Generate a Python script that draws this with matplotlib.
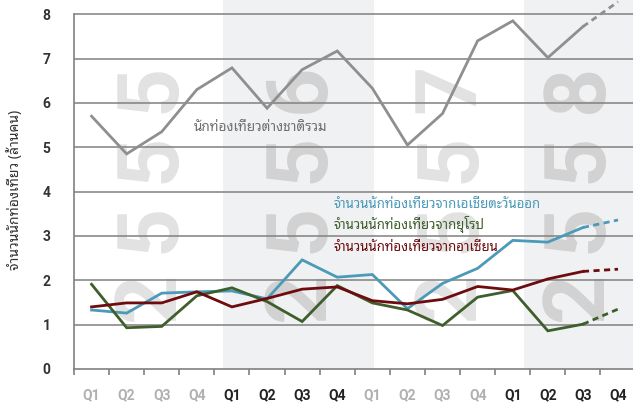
import matplotlib
matplotlib.use("Agg")
import matplotlib.pyplot as plt

# quarters 2555-2558, values in million visitors
quarters = ["Q1", "Q2", "Q3", "Q4"] * 4
years = ["2555", "2556", "2557", "2558"]
total = [5.70, 4.85, 5.35, 6.30, 6.79, 5.88, 6.75, 7.17,
         6.33, 5.05, 5.76, 7.40, 7.85, 7.02, 7.72, 8.28]
east_asia = [1.33, 1.26, 1.71, 1.74, 1.76, 1.58, 2.46, 2.07,
             2.13, 1.36, 1.93, 2.27, 2.90, 2.86, 3.19, 3.36]
europe = [1.91, 0.93, 0.96, 1.65, 1.83, 1.52, 1.07, 1.88,
          1.49, 1.33, 0.98, 1.62, 1.77, 0.86, 1.01, 1.35]
asean = [1.40, 1.49, 1.49, 1.74, 1.40, 1.59, 1.80, 1.85,
         1.54, 1.47, 1.57, 1.86, 1.78, 2.03, 2.20, 2.25]

label_total = "นักท่องเที่ยวต่างชาติรวม"
label_east = "จำนวนนักท่องเที่ยวจากเอเชียตะวันออก"
label_europe = "จำนวนนักท่องเที่ยวจากยุโรป"
label_asean = "จำนวนนักท่องเที่ยวจากอาเซียน"
ylabel = "จำนวนนักท่องเที่ยว (ล้านคน)"

thai = ["Noto Sans Thai Looped", "DejaVu Sans"]

fig = plt.figure(figsize=(6.33, 4.07), dpi=100)
ax = fig.add_axes([0.1169, 0.0934, 0.8872, 0.9066])

x = [i + 0.5 for i in range(len(quarters))]
ax.set_xlim(0, 16)
ax.set_ylim(0, 8.32)

# shaded years
ax.axvspan(4.245, 8.547, color="#f0f1f3", zorder=0, lw=0)
ax.axvspan(12.82, 16.5, color="#f0f1f3", zorder=0, lw=0)

# big year watermarks, one digit at a time, reading bottom to top
col_x = [2.19, 6.44, 10.74, 14.36]
row_y = [1.645, 3.18, 4.75, 6.33]
for k, (cx, yr) in enumerate(zip(col_x, years)):
    c = "#e2e2e2" if k % 2 == 0 else "#d2d2d3"
    for ry, d in zip(row_y, yr):
        ax.text(cx, ry, d, rotation=90, ha="center", va="center",
                fontsize=62, fontweight="bold", family="Roboto",
                color=c, zorder=1)

for v in range(1, 9):
    ax.axhline(v, color="#808080", lw=1.1, zorder=2)

series = [(total, "#8f8f8f"), (east_asia, "#4b9ab8"),
          (europe, "#3e5f2b"), (asean, "#6e0b0e")]
for vals, c in series:
    ax.plot(x[:15], vals[:15], color=c, lw=2.0, zorder=3,
            solid_joinstyle="miter", clip_on=False)
    ax.plot(x[14:], vals[14:], color=c, lw=2.0, ls=(0, (2.2, 1.6)),
            zorder=3, clip_on=False)

ax.text(3.42, 5.45, label_total, color="#6f6f6f", fontsize=9.8, family=thai,
        va="center", ha="left", zorder=4)
ax.text(7.41, 3.72, label_east, color="#4b9ab8", fontsize=9.5, family=thai,
        va="center", ha="left", zorder=4)
ax.text(7.41, 3.25, label_europe, color="#3e5f2b", fontsize=9.5, family=thai,
        va="center", ha="left", zorder=4)
ax.text(7.41, 2.73, label_asean, color="#6e0b0e", fontsize=9.5, family=thai,
        va="center", ha="left", zorder=4)

for s in ["top", "right"]:
    ax.spines[s].set_visible(False)
for s in ["left", "bottom"]:
    ax.spines[s].set_color("#808080")
    ax.spines[s].set_linewidth(1.2)
ax.spines["left"].set_bounds(0, 8)

ax.set_yticks(range(9))
ax.set_yticklabels([str(v) for v in range(9)], fontsize=10,
                   fontweight="bold", family="Roboto", color="#333333")
ax.tick_params(axis="y", length=0, pad=17)

ax.set_xticks(range(17))
ax.set_xticklabels([])
ax.tick_params(axis="x", which="major", length=4, color="#808080", width=1.2)
ax.set_xticks(x, minor=True)
ax.set_xticklabels(quarters, minor=True, fontsize=10, family="Roboto",
                   fontweight="bold")
ax.tick_params(axis="x", which="minor", length=0, pad=14)
for i, t in enumerate(ax.get_xticklabels(minor=True)):
    t.set_color("#b0b0b0" if (i // 4) % 2 == 0 else "#222222")

fig.text(15 / 633, 1 - 190 / 407, ylabel, rotation=90, ha="center",
         va="center", fontsize=10, family=thai, color="#333333")

fig.savefig("out.png")
